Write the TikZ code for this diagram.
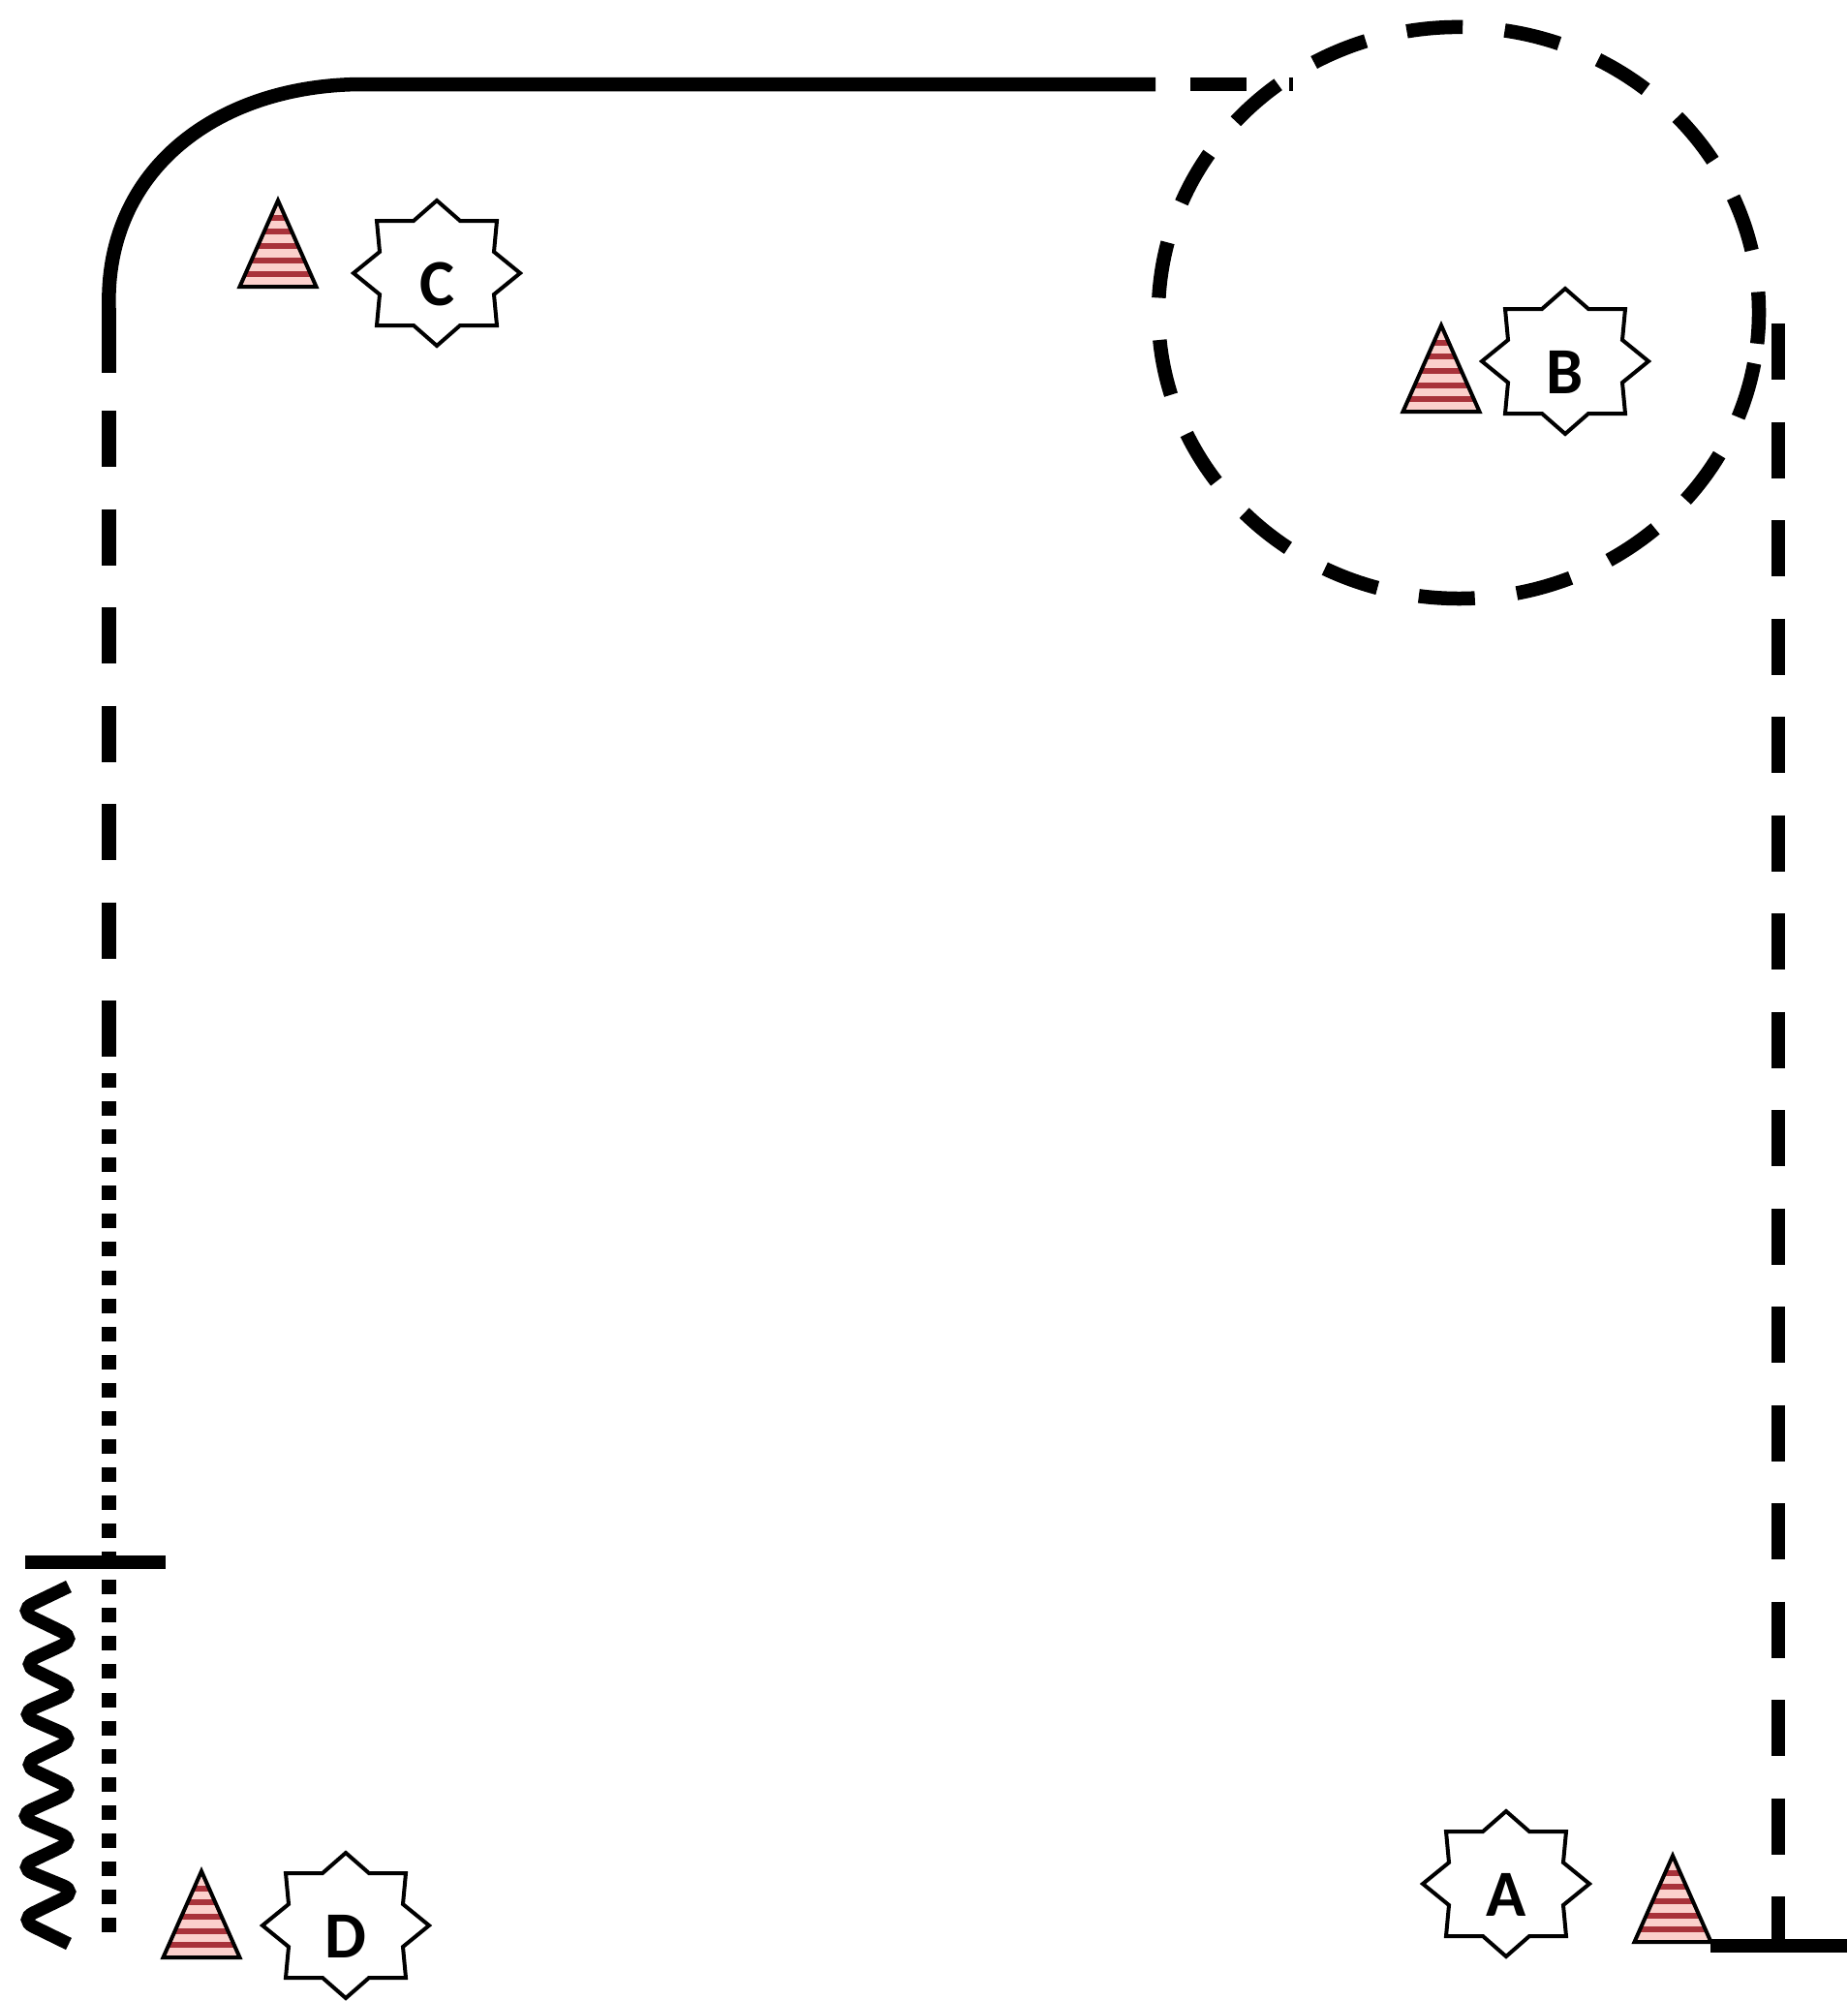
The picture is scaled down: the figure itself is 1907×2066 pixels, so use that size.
\documentclass[tikz,border=0pt]{standalone}
\usepackage{fontspec}
\setmainfont{Carlito}
\usepackage{tikz}
\definecolor{conepink}{HTML}{FBD0CC}
\definecolor{conered}{HTML}{A8323A}
\tikzset{
  wall/.style={line width=14.5pt},
  dashwall/.style={line width=14.5pt,dash pattern=on 58pt off 43.5pt},
  dotwall/.style={line width=15pt,dash pattern=on 15pt off 14.07pt},
  outline/.style={line width=4pt,line join=miter},
  letter/.style={font=\bfseries\fontsize{68}{68}\selectfont,inner sep=0pt,anchor=base}
}
\begin{document}
\begin{tikzpicture}[x=1pt,y=-1pt]
  \useasboundingbox (0,0) rectangle (1907,2066);
  \coordinate (L0) at (112.5,318);
  \coordinate (L1) at (112.5,385);
  \coordinate (L2) at (112.5,424);
  \coordinate (L3) at (112.5,1091);
  \coordinate (L4) at (112.5,1108);
  \coordinate (L5) at (112.5,1995);
  \coordinate (T0) at (375,87);
  \coordinate (T1) at (1193,87);
  \coordinate (T2) at (1229,87);
  \coordinate (T3) at (1335,87);
  \coordinate (R0) at (1836,334);
  \coordinate (R1) at (1836,2009);
  \coordinate (G0) at (1766,2009);
  \coordinate (G1) at (1907,2009);
  \coordinate (K0) at (26,1613);
  \coordinate (K1) at (171,1613);
  % walls
  \draw[wall] (L0) .. controls (108,175) and (225,87) .. (T0) -- (T1);
  \draw[dashwall] (T2) -- (T3);
  \draw[line width=14.5pt] (L0) -- (L1);
  \draw[dashwall] (L2) -- (L3);
  \draw[dotwall] (L4) -- (L5);
  \draw[dashwall] (R0) -- (R1);
  \draw[wall] (G0) -- (G1);
  \draw[wall] (K0) -- (K1);
  % zone round B
  \draw[dashwall] (1811.1,375.2) arc[start angle=10.2,end angle=366.2,x radius=310,y radius=295];
  % spring
  \draw[line width=13.5pt,rounded corners=16pt] (71,1638) -- (19,1663) -- (79,1692) -- (22,1718)
    -- (78,1745) -- (20,1770) -- (78,1795) -- (22,1822) -- (78,1848) -- (18,1875) -- (78,1900)
    -- (19,1928) -- (80,1953) -- (20,1982) -- (71,2007);
  % cones
  \foreach \name/\tx/\ty in {C/287/296,B/1488/425,A/1727/2005,D/208/2021}{
    \begin{scope}[shift={(\tx,\ty)}]
      \begin{scope}
        \clip (-39.5,0) -- (0,-89) -- (39.5,0) -- cycle;
        \fill[conepink] (-41,-95) rectangle (41,0);
        \foreach \s in {13,27,42,57,71}
          \fill[conered] (-41,-\s-3) rectangle (41,-\s+3);
      \end{scope}
      \draw[outline] (-39.5,0) -- (0,-89) -- (39.5,0) -- cycle;
    \end{scope}
  }
  % stars
  \foreach \name/\sx/\sy in {C/451/282,B/1616/373,A/1555/1945,D/357/1988}{
    \begin{scope}[shift={(\sx,\sy)}]
      \draw[outline] (0,-75) -- (24,-54) -- (62,-54) -- (59,-22) -- (86,0) -- (59,22) -- (62,54)
        -- (24,54) -- (0,75) -- (-24,54) -- (-62,54) -- (-59,22) -- (-86,0) -- (-59,-22)
        -- (-62,-54) -- (-24,-54) -- cycle;
      \node[letter] (\name) at (0,33) {\name};
    \end{scope}
  }
\end{tikzpicture}
\end{document}
